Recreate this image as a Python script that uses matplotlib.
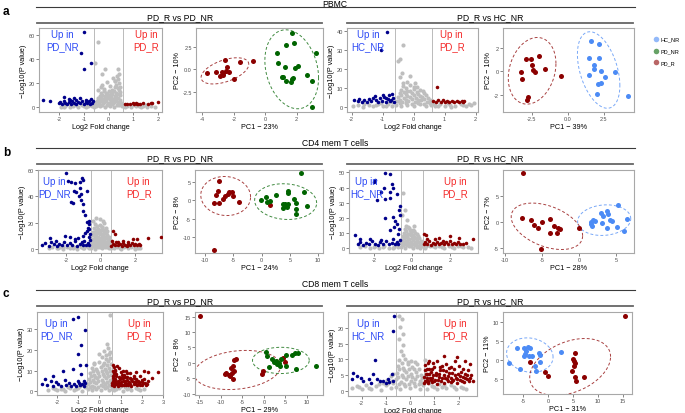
import numpy as np
import matplotlib
matplotlib.use("Agg")
import matplotlib.pyplot as plt
from matplotlib.lines import Line2D

plt.rcParams['font.family'] = ['Liberation Sans', 'DejaVu Sans']
plt.rcParams['axes.unicode_minus'] = False

W, H = 685, 414

# ---------------- volcano data (log2FC, -log10 p) ----------------
A1_GREY = [(-1.92, 0.4), (-1.75, 1.1), (-1.58, 0.3), (-1.42, 1.3), (-1.25, 0.6), (-1.08, 1.5), (-0.92, 0.2),
           (-0.8, 1.9), (-0.68, 0.9), (0.72, 1.2), (0.88, 0.4), (1.05, 1.7), (1.22, 0.7), (1.38, 1.4), (1.55, 0.3),
           (1.7, 1.0), (1.86, 0.5), (0.95, 2.2), (-1.5, 2.0),
           (-0.52, 0.8), (-0.34, 1.4), (-0.15, 0.5), (0.04, 1.1), (0.22, 0.6), (0.41, 1.6), (0.55, 0.9),
           (-0.56, 3.2), (-0.4, 2.8), (-0.21, 3.5), (-0.02, 2.6), (0.17, 3.4), (0.36, 2.9), (0.5, 3.6),
           (-0.48, 5.3), (-0.28, 4.8), (-0.09, 5.6), (0.11, 4.9), (0.3, 5.4), (0.47, 4.7),
           (-0.43, 7.4), (-0.22, 6.9), (-0.04, 7.8), (0.16, 7.1), (0.38, 7.6),
           (-0.37, 9.6), (-0.16, 9.1), (0.03, 10.2), (0.24, 9.4), (0.44, 10.0),
           (-0.31, 12.1), (-0.12, 11.6), (0.08, 12.5), (0.29, 11.8), (0.47, 12.9),
           (-0.42, 14.6), (-0.18, 15.3), (0.14, 14.2), (0.36, 15.8),
           (-0.27, 18.1), (0.06, 17.6), (0.31, 18.8), (0.45, 17.0),
           (-0.08, 20.9), (0.26, 21.4), (0.4, 20.2), (0.19, 24.3), (0.36, 23.5),
           (-0.44, 53.7), (-0.54, 36.6), (-0.13, 31.6), (0.36, 31.6), (0.34, 25.6), (-0.27, 27.5),
           (0.27, 22.0), (0.42, 27.8),
           (-0.45, 2.0), (-0.25, 2.2), (-0.05, 1.8), (0.15, 2.3), (0.35, 1.9), (0.52, 2.4), (-0.4, 4.0),
           (-0.2, 4.2), (0.0, 3.9), (0.2, 4.3), (0.4, 4.0), (-0.35, 6.2), (-0.15, 6.0), (0.05, 6.5), (0.25, 6.3),
           (0.45, 6.1), (-0.3, 8.4), (-0.1, 8.2), (0.1, 8.7), (0.3, 8.5), (-0.25, 10.5), (-0.05, 10.8),
           (0.15, 10.6), (0.35, 11.0), (-0.2, 13.5), (0.0, 13.8), (0.2, 13.3), (0.4, 14.0), (-0.3, 16.5),
           (0.25, 16.8), (-1.3, 2.1), (-1.0, 0.9), (-0.6, 0.3), (0.65, 0.5), (1.3, 0.5), (1.5, 1.8), (-1.8, 0.2),
           (-0.85, 1.2), (1.1, 0.9), (0.6, 1.7)]
A1_BLUE = [(-1.01, 62.0), (-1.10, 44.6), (-0.71, 36.4), (-1.01, 31.7), (-2.63, 6.3), (-2.36, 5.0), (-1.79, 8.8),
           (-1.41, 7.7), (-1.14, 7.7), (-1.3, 6.3), (-1.62, 6.9),
           (-2.0, 3.2), (-1.95, 4.6), (-1.88, 2.8), (-1.82, 5.4), (-1.75, 3.6), (-1.68, 2.9), (-1.6, 4.4),
           (-1.52, 3.1), (-1.46, 5.2), (-1.38, 3.8), (-1.3, 2.7), (-1.22, 4.5), (-1.15, 3.3), (-1.08, 5.6),
           (-1.0, 2.9), (-0.93, 4.1), (-0.86, 3.4), (-0.8, 5.0), (-0.74, 2.8), (-0.68, 3.9), (-0.63, 4.8),
           (-0.9, 6.0), (-1.55, 6.1), (-0.7, 6.6)]
A1_RED = [(0.74, 2.7), (0.85, 3.0), (0.97, 3.3), (1.03, 2.5), (1.1, 3.6), (1.15, 2.7), (1.27, 2.7), (1.40, 3.3),
          (1.6, 2.7), (1.7, 3.6), (1.75, 3.2), (1.98, 4.3), (0.65, 2.4), (1.2, 3.1)]

A2_GREY = [(-1.95, 0.6), (-1.8, 1.4), (-1.62, 0.3), (-1.45, 1.1), (-1.3, 0.5), (-1.15, 1.7), (-0.98, 0.8),
           (-0.82, 1.9), (-0.7, 0.4), (0.7, 0.9), (0.85, 1.8), (1.0, 0.4), (1.18, 1.2), (1.35, 0.7), (1.52, 1.5),
           (1.7, 0.5), (1.85, 1.1), (1.94, 2.1), (-1.05, 2.2), (1.1, 2.1),
           (-0.58, 1.0), (-0.4, 0.5), (-0.2, 1.3), (0.0, 0.7), (0.2, 1.5), (0.4, 0.6), (0.56, 1.2),
           (-0.55, 3.1), (-0.36, 2.6), (-0.17, 3.4), (0.03, 2.8), (0.23, 3.6), (0.42, 2.5), (0.58, 3.3),
           (-0.5, 5.2), (-0.31, 4.7), (-0.12, 5.5), (0.08, 4.9), (0.27, 5.6), (0.46, 4.8),
           (-0.45, 7.3), (-0.26, 6.8), (-0.06, 7.6), (0.13, 7.0), (0.33, 7.5),
           (-0.4, 9.2), (-0.2, 8.8), (0.0, 9.7), (0.2, 9.0), (-0.33, 11.1), (-0.12, 11.6), (0.1, 10.8),
           (-0.34, 33.0), (-0.45, 25.4), (-0.5, 24.5), (-0.38, 18.0), (-0.1, 16.3), (-0.45, 15.8),
           (-0.2, 13.5), (0.05, 13.0),
           (-0.45, 2.0), (-0.25, 2.1), (-0.05, 1.9), (0.15, 2.3), (0.35, 1.9), (0.52, 2.4), (-0.45, 4.0),
           (-0.25, 3.8), (-0.05, 4.2), (0.15, 3.9), (0.35, 4.3), (0.52, 4.0), (-0.4, 6.2), (-0.2, 6.0), (0.0, 6.4),
           (0.2, 6.1), (0.4, 6.4), (-0.3, 8.1), (-0.1, 8.3), (0.1, 8.0), (0.3, 8.5), (-0.25, 10.2), (0.0, 10.5),
           (-0.35, 13.0), (-1.6, 1.5), (-1.2, 1.0), (-0.9, 0.5), (0.8, 0.4), (1.2, 0.2), (1.6, 1.0), (1.8, 1.8),
           (0.65, 1.5), (-0.7, 2.5)]
A2_BLUE = [(-0.86, 39.8), (-1.06, 30.3),
           (-1.92, 4.0), (-1.81, 3.5), (-1.75, 4.4), (-1.68, 3.0), (-1.6, 3.8), (-1.52, 2.7), (-1.45, 4.6),
           (-1.38, 3.2), (-1.3, 5.1), (-1.22, 3.6), (-1.15, 2.8), (-1.1, 4.8), (-1.02, 3.4), (-0.95, 5.6),
           (-0.9, 3.0), (-0.84, 4.2), (-0.78, 6.3), (-0.72, 3.6), (-0.66, 5.0), (-0.63, 2.9), (-0.7, 7.1),
           (-0.98, 6.6), (-1.25, 5.8), (-0.88, 4.9), (-0.75, 3.1)]
A2_RED = [(0.76, 10.5), (0.63, 3.3), (0.72, 2.8), (0.8, 3.6), (0.9, 2.7), (1.0, 3.0), (1.08, 3.4), (1.15, 2.6),
          (1.25, 3.2), (1.32, 2.8), (1.4, 3.5), (1.47, 3.0), (1.55, 3.3), (1.6, 2.7), (1.64, 3.1), (0.95, 3.9)]

B1_GREY = [(-2.55, 0.5), (-2.35, 1.3), (-2.15, 0.4), (-1.95, 1.6), (-1.75, 0.7), (-1.55, 1.9), (-1.35, 0.3),
           (-1.15, 1.4), (-0.95, 0.6), (-0.75, 1.8), (0.75, 0.6), (0.95, 1.5), (1.15, 0.3), (1.35, 1.2),
           (1.55, 0.7), (1.75, 1.6), (1.95, 0.4), (2.15, 1.1), (2.26, 0.5), (-3.0, 0.9), (-2.8, 1.8),
           (-0.55, 1.0), (-0.35, 0.4), (-0.15, 1.2), (0.05, 0.6), (0.25, 1.4), (0.45, 0.5), (0.6, 1.1),
           (-0.56, 3.2), (-0.38, 2.6), (-0.18, 3.5), (0.02, 2.8), (0.22, 3.6), (0.42, 2.5), (0.6, 3.4),
           (-0.52, 5.5), (-0.33, 4.8), (-0.13, 5.9), (0.07, 5.1), (0.27, 5.7), (0.47, 4.9),
           (-0.48, 8.0), (-0.28, 7.2), (-0.08, 8.4), (0.12, 7.6), (0.32, 8.2), (0.52, 7.0),
           (-0.45, 10.6), (-0.25, 9.9), (-0.05, 11.1), (0.15, 10.3), (0.35, 10.8),
           (-0.42, 13.2), (-0.22, 12.6), (-0.02, 13.8), (0.18, 12.9), (0.38, 13.5),
           (-0.4, 16.0), (-0.15, 15.4), (0.08, 16.5), (0.28, 15.7),
           (-0.35, 18.8), (-0.05, 18.2), (0.2, 19.4), (-0.28, 23.6), (-0.05, 22.8), (0.14, 21.5), (-0.45, 21.0),
           (-0.45, 2.0), (-0.25, 2.2), (-0.05, 1.9), (0.15, 2.3), (0.35, 1.8), (0.55, 2.3), (-0.45, 4.2),
           (-0.25, 4.0), (-0.05, 4.4), (0.15, 4.1), (0.35, 4.3), (0.55, 4.6), (-0.4, 6.6), (-0.2, 6.4), (0.0, 6.9),
           (0.2, 6.6), (0.4, 6.8), (-0.35, 9.2), (-0.15, 9.0), (0.05, 9.5), (0.25, 9.3), (0.45, 9.0), (-0.3, 11.8),
           (-0.1, 12.0), (0.1, 11.6), (0.3, 12.2), (-0.3, 14.5), (0.0, 14.8), (0.2, 14.3), (-0.2, 17.2),
           (0.05, 17.0), (-2.2, 1.2), (-1.6, 1.0), (-1.0, 1.1), (-0.7, 0.5), (0.7, 1.3), (1.1, 1.0), (1.6, 1.2),
           (2.0, 1.1), (-2.45, 0.9)]
B1_BLUE = [(-2.01, 57.8), (-1.74, 51.2), (-1.87, 52.0), (-1.49, 50.2), (-1.10, 53.8), (-1.01, 52.7), (-1.2, 50.7),
           (-1.2, 46.2), (-1.55, 44.4), (-0.78, 44.4), (-1.43, 43.1), (-1.14, 41.8), (-1.74, 35.5), (-1.59, 35.0),
           (-1.24, 40.5), (-1.14, 37.5), (-1.04, 34.2), (-1.01, 29.1), (-0.91, 25.9), (-0.78, 20.8),
           (-0.66, 21.5), (-0.66, 18.9), (-0.72, 16.3), (-0.82, 13.8), (-0.91, 11.8), (-1.01, 10.1),
           (-0.66, 15.0), (-0.62, 11.3), (-2.93, 8.1), (-2.07, 10.1), (-1.78, 8.9), (-1.49, 7.6), (-1.3, 8.1),
           (-3.4, 3.1), (-3.2, 4.5), (-3.0, 2.6), (-2.85, 5.2), (-2.7, 3.5), (-2.55, 2.4), (-2.4, 4.1),
           (-2.25, 3.0), (-2.1, 5.5), (-1.95, 2.7), (-1.8, 4.3), (-1.65, 3.2), (-1.5, 5.8), (-1.35, 2.6),
           (-1.2, 4.0), (-1.05, 3.1), (-0.95, 6.2), (-0.85, 2.8), (-0.75, 4.6), (-0.68, 3.3), (-0.64, 7.0),
           (-0.7, 9.0), (-1.1, 5.0), (-2.6, 6.0)]
B1_RED = [(0.72, 13.9), (0.82, 11.4), (2.74, 8.1), (3.45, 9.4), (1.88, 7.6), (2.1, 7.6), (1.31, 6.3),
          (0.62, 2.5), (0.7, 4.2), (0.8, 3.0), (0.9, 5.0), (1.0, 2.7), (1.1, 3.8), (1.2, 2.4), (1.3, 4.6),
          (1.4, 3.1), (1.5, 2.6), (1.6, 4.0), (1.7, 3.0), (1.8, 4.8), (1.9, 2.7), (2.0, 3.6), (2.1, 2.9),
          (2.2, 4.2), (2.25, 3.0), (1.0, 5.5), (1.55, 5.2), (0.65, 6.0)]

B2_GREY = [(-2.7, 0.8), (-2.45, 1.6), (-2.2, 0.4), (-1.95, 1.3), (-1.7, 0.6), (-1.45, 1.8), (-1.2, 0.3),
           (-0.95, 1.2), (-0.75, 2.2), (0.7, 0.5), (0.95, 1.6), (1.2, 0.7), (1.45, 1.9), (1.7, 0.4), (1.95, 1.3),
           (2.2, 0.6), (2.45, 1.5), (2.7, 0.8), (2.95, 1.2), (3.1, 0.5),
           (-0.55, 1.0), (-0.35, 0.5), (-0.15, 1.4), (0.05, 0.6), (0.25, 1.2), (0.45, 0.4), (0.56, 1.6),
           (-0.54, 3.3), (-0.36, 2.8), (-0.17, 3.7), (0.03, 2.9), (0.23, 3.5), (0.43, 2.7),
           (-0.5, 5.6), (-0.31, 5.0), (-0.12, 6.0), (0.08, 5.3), (0.28, 5.9), (0.47, 5.1),
           (-0.46, 8.0), (-0.26, 7.4), (-0.06, 8.5), (0.14, 7.7), (0.34, 8.2),
           (-0.42, 10.4), (-0.22, 9.8), (-0.02, 10.9), (0.18, 10.1), (-0.38, 12.8), (-0.15, 13.5), (0.05, 12.4),
           (-0.3, 15.0), (-0.45, 36.4), (-0.34, 25.4), (-0.5, 22.0), (-0.25, 18.5), (0.1, 14.8),
           (-0.45, 2.0), (-0.25, 2.1), (-0.05, 1.9), (0.15, 2.3), (0.35, 1.9), (0.52, 2.4), (-0.45, 4.3),
           (-0.25, 4.0), (-0.05, 4.5), (0.15, 4.2), (0.35, 4.4), (0.52, 4.0), (-0.4, 6.7), (-0.2, 6.5), (0.0, 7.0),
           (0.2, 6.7), (0.4, 6.9), (-0.35, 9.1), (-0.15, 9.3), (0.05, 9.0), (0.25, 9.4), (-0.3, 11.5),
           (-0.1, 11.8), (0.1, 11.2), (-0.2, 14.0), (-2.0, 1.0), (-1.5, 0.8), (-1.0, 0.5), (-0.7, 1.2),
           (0.75, 1.3), (1.1, 1.4), (1.6, 1.0), (2.1, 1.1), (2.6, 1.3), (0.8, 2.5), (-0.8, 2.8)]
B2_BLUE = [(-1.39, 49.5), (-1.17, 48.9), (-1.92, 45.1), (-2.01, 43.4), (-1.04, 42.3), (-0.96, 39.5), (-1.48, 39.5),
           (-1.61, 37.2), (-1.13, 36.8), (-1.83, 32.0), (-1.43, 32.4), (-1.13, 32.9), (-0.78, 35.7), (-0.64, 28.0),
           (-0.69, 25.2), (-1.43, 19.7), (-0.96, 20.4), (-0.87, 18.2), (-0.78, 16.0), (-0.91, 13.8),
           (-0.69, 12.7), (-1.13, 12.0), (-2.97, 9.0), (-2.71, 6.1), (-0.62, 22.0), (-0.72, 9.5),
           (-2.85, 3.0), (-2.7, 4.2), (-2.55, 2.5), (-2.4, 3.8), (-2.25, 2.8), (-2.1, 4.6), (-1.95, 3.1),
           (-1.8, 2.4), (-1.65, 4.0), (-1.5, 3.0), (-1.35, 5.0), (-1.2, 2.6), (-1.05, 3.6), (-0.9, 2.8),
           (-0.8, 4.4), (-0.7, 3.2), (-0.62, 5.5), (-1.6, 5.6), (-2.2, 6.0), (-1.0, 6.5)]
B2_RED = [(0.66, 9.4), (1.41, 6.6), (2.03, 7.9), (2.5, 6.6), (3.2, 6.1), (0.75, 8.5),
          (0.62, 2.6), (0.72, 4.0), (0.82, 3.0), (0.92, 5.0), (1.02, 2.4), (1.12, 3.8), (1.22, 2.9), (1.32, 4.5),
          (1.42, 2.6), (1.52, 3.6), (1.62, 5.2), (1.72, 2.8), (1.82, 4.1), (1.92, 3.0), (2.02, 4.8), (2.12, 2.7),
          (2.22, 3.6), (2.32, 2.9), (2.42, 4.2), (2.55, 3.1), (2.7, 2.8), (2.85, 3.5), (1.2, 6.0), (0.8, 6.3)]

C1_GREY = [(-2.4, 0.8), (-2.2, 1.6), (-2.0, 0.5), (-1.8, 1.3), (-1.6, 0.4), (-1.4, 1.8), (-1.2, 0.7), (-1.0, 1.5),
           (-0.8, 0.3), (-0.7, 2.0), (0.7, 0.6), (0.9, 1.6), (1.1, 0.4), (1.3, 1.3), (1.5, 0.8), (1.7, 1.7),
           (1.9, 0.5), (2.08, 1.0), (-1.5, 2.3), (1.2, 2.2),
           (-0.55, 1.0), (-0.35, 0.5), (-0.15, 1.3), (0.05, 0.7), (0.25, 1.5), (0.45, 0.6), (0.57, 1.2),
           (-0.53, 3.5), (-0.34, 2.8), (-0.14, 3.9), (0.06, 3.1), (0.26, 3.7), (0.46, 2.9),
           (-0.5, 6.0), (-0.3, 5.4), (-0.1, 6.4), (0.1, 5.6), (0.3, 6.2), (0.5, 5.3),
           (-0.45, 8.6), (-0.25, 8.0), (-0.05, 9.0), (0.15, 8.2), (0.35, 8.8), (0.55, 7.9),
           (-0.35, 11.2), (-0.15, 10.6), (0.05, 11.6), (0.25, 10.9), (0.45, 11.4),
           (-0.25, 13.4), (0.0, 14.2), (0.2, 13.6), (0.4, 14.5), (0.55, 13.0),
           (0.1, 16.5), (0.3, 17.4), (0.48, 16.2), (0.2, 19.5), (0.38, 20.8), (0.5, 19.0), (0.36, 23.0),
           (0.5, 36.5), (0.0, 18.0), (-0.25, 13.0),
           (-0.45, 2.0), (-0.25, 2.2), (-0.05, 1.9), (0.15, 2.4), (0.35, 2.0), (0.55, 2.5), (-0.45, 4.6),
           (-0.25, 4.3), (-0.05, 4.8), (0.15, 4.5), (0.35, 4.7), (0.55, 4.4), (-0.4, 7.2), (-0.2, 7.0), (0.0, 7.5),
           (0.2, 7.2), (0.4, 7.5), (-0.3, 9.8), (-0.1, 10.0), (0.1, 9.8), (0.3, 10.0), (0.5, 9.6), (0.15, 12.5),
           (0.35, 12.6), (0.3, 15.5), (0.45, 18.0), (-0.9, 2.4), (-1.1, 1.1), (-1.7, 0.9), (-2.1, 1.1),
           (0.8, 1.2), (1.0, 2.4), (1.4, 1.7), (1.8, 1.2), (-0.7, 3.5)]
C1_BLUE = [(-1.23, 34.9), (-1.02, 35.7), (-0.67, 29.6), (-0.88, 22.5), (-1.02, 18.0), (-0.91, 12.9), (-0.63, 12.9),
           (-0.86, 8.4), (-1.25, 10.8), (-1.73, 10.0), (-2.2, 7.5), (-2.56, 5.9), (-2.72, 3.5), (-2.04, 4.3),
           (-2.3, 5.0), (-1.62, 5.5), (-1.45, 3.9),
           (-2.45, 3.0), (-2.2, 2.6), (-1.95, 3.4), (-1.8, 2.8), (-1.55, 3.1), (-1.35, 2.5), (-1.2, 3.6),
           (-1.1, 2.7), (-0.98, 4.0), (-0.9, 3.0), (-0.8, 3.6), (-0.72, 2.6), (-0.66, 4.2), (-0.75, 4.8), (-1.0, 5.0)]
C1_RED = [(1.26, 10.0), (1.7, 9.3), (2.08, 10.0), (2.26, 9.2), (2.75, 9.2), (2.47, 6.3), (0.65, 12.9), (0.73, 10.5),
          (0.6, 3.0), (0.62, 5.0), (0.63, 7.5), (0.64, 10.0), (0.66, 11.8), (0.7, 2.8), (0.72, 4.2), (0.75, 6.0),
          (0.78, 8.5), (0.8, 3.5), (0.85, 5.2), (0.88, 2.7), (0.9, 7.0), (0.95, 4.0), (1.0, 3.0), (1.02, 6.2),
          (1.05, 8.0), (1.1, 4.8), (1.15, 2.9), (1.18, 6.8), (1.22, 3.8), (1.28, 5.5), (1.3, 8.8), (1.35, 3.1),
          (1.4, 4.6), (1.45, 6.5), (1.5, 2.8), (1.55, 5.0), (1.6, 7.6), (1.62, 3.6), (1.68, 4.4), (1.72, 6.0),
          (1.78, 2.9), (1.82, 5.2), (1.88, 3.8), (1.92, 7.2), (1.98, 4.6), (2.02, 3.2), (2.1, 5.8), (2.15, 4.0),
          (2.2, 3.0), (2.3, 4.8), (0.68, 9.0), (0.92, 11.0), (1.12, 9.6), (0.82, 12.2), (1.45, 8.6),
          (0.6, 4.0), (0.65, 6.5), (0.7, 3.5), (0.75, 5.0), (0.8, 7.5), (0.85, 4.2), (0.9, 3.0), (0.95, 5.8),
          (1.0, 4.5), (1.05, 3.3), (1.1, 6.5), (1.2, 5.0), (1.25, 3.0), (1.3, 7.0), (1.35, 4.0), (1.45, 3.5),
          (1.5, 5.8), (1.6, 4.5), (1.7, 3.4), (1.75, 5.0), (1.85, 4.4), (1.9, 3.0), (2.0, 5.5), (2.05, 3.9),
          (2.25, 3.6), (0.7, 8.0), (1.0, 9.5), (1.15, 7.8), (0.75, 10.0), (1.6, 6.2)]

C2_GREY = [(-2.4, 0.8), (-2.2, 1.5), (-2.0, 0.5), (-1.8, 1.9), (-1.6, 0.7), (-1.4, 1.4), (-1.2, 0.3), (-1.0, 1.8),
           (-0.8, 0.9), (-0.7, 2.4), (0.7, 0.7), (0.9, 1.6), (1.1, 0.4), (1.3, 1.3), (1.5, 0.8), (1.7, 1.7),
           (1.9, 0.5), (2.1, 1.2), (2.3, 0.6), (-1.1, 2.4), (1.2, 2.1), (-0.95, 3.5), (-0.8, 4.6), (-0.75, 3.0),
           (-0.6, 1.2), (-0.4, 0.5), (-0.2, 1.5), (0.0, 0.8), (0.2, 1.4), (0.4, 0.6), (0.54, 1.8),
           (-0.58, 3.6), (-0.38, 2.9), (-0.18, 3.8), (0.02, 3.1), (0.22, 3.9), (0.42, 3.0),
           (-0.55, 5.8), (-0.35, 5.1), (-0.15, 6.1), (0.05, 5.3), (0.25, 6.0), (0.45, 5.0),
           (-0.5, 8.0), (-0.3, 7.3), (-0.1, 8.4), (0.1, 7.6), (0.3, 8.6), (-0.45, 9.8), (-0.2, 10.2), (0.05, 9.5),
           (-0.44, 24.0), (-0.35, 23.0), (-0.4, 20.5), (-0.3, 18.2), (-0.45, 16.5), (-0.28, 14.5),
           (-0.38, 12.8), (-0.3, 11.5), (0.6, 9.8),
           (-0.45, 2.2), (-0.25, 2.3), (-0.05, 2.0), (0.15, 2.4), (0.35, 2.2), (0.5, 2.6), (-0.5, 4.5),
           (-0.3, 4.3), (-0.1, 4.7), (0.1, 4.4), (0.3, 4.6), (0.5, 4.2), (-0.45, 6.8), (-0.25, 6.6), (-0.05, 7.1),
           (0.15, 6.8), (0.35, 7.0), (-0.35, 9.0), (-0.1, 9.2), (0.2, 9.3), (-0.9, 2.6), (-0.7, 5.5), (-1.3, 2.0),
           (-1.7, 1.0), (-2.1, 1.2), (0.8, 2.4), (1.0, 1.1), (1.4, 1.7), (1.8, 1.2), (2.2, 1.0), (0.7, 3.5),
           (0.65, 5.0)]
C2_BLUE = [(-0.65, 24.0), (-0.69, 19.0), (-1.45, 9.8), (-2.34, 5.7), (-2.2, 4.8), (-1.93, 3.2), (-1.52, 5.4),
           (-1.38, 3.7), (-1.1, 3.2), (-0.69, 3.0), (-0.9, 3.7), (-1.25, 3.0), (-1.7, 3.7), (-2.03, 4.2),
           (-0.76, 5.5), (-1.0, 2.6), (-1.6, 2.5), (-2.4, 3.6), (-0.85, 2.7)]
C2_RED = [(1.38, 11.0), (1.1, 9.6), (0.77, 9.4), (1.95, 10.9), (1.85, 9.4), (2.48, 8.6), (2.27, 9.6), (0.95, 9.0),
          (0.56, 2.4), (0.58, 4.5), (0.6, 6.5), (0.62, 8.2), (0.66, 3.2), (0.7, 5.4), (0.74, 2.5), (0.78, 7.0),
          (0.82, 4.0), (0.86, 6.0), (0.9, 2.8), (0.95, 4.9), (1.0, 7.5), (1.04, 3.4), (1.08, 5.8), (1.12, 2.3),
          (1.18, 4.4), (1.22, 6.6), (1.28, 3.0), (1.32, 8.0), (1.38, 5.0), (1.42, 2.6), (1.48, 6.2), (1.52, 3.8),
          (1.58, 4.8), (1.62, 7.2), (1.68, 2.7), (1.72, 5.6), (1.78, 3.5), (1.82, 6.8), (1.88, 4.2), (1.92, 2.5),
          (1.98, 5.2), (2.02, 7.8), (2.08, 3.3), (2.12, 6.0), (2.18, 4.4), (2.22, 2.8), (2.28, 5.4), (2.34, 3.6),
          (2.4, 6.6), (2.46, 4.0), (2.52, 5.0), (2.58, 3.2), (1.5, 8.6), (0.75, 8.8),
          (0.6, 3.0), (0.64, 5.5), (0.7, 4.0), (0.76, 3.0), (0.8, 5.5), (0.85, 3.5), (0.92, 4.0), (1.0, 3.0),
          (1.05, 5.0), (1.15, 3.5), (1.2, 5.5), (1.3, 4.0), (1.35, 6.5), (1.45, 4.2), (1.55, 3.0), (1.6, 5.8),
          (1.7, 4.2), (1.75, 3.0), (1.85, 5.0), (1.95, 3.6), (2.05, 4.6), (2.15, 3.0), (2.25, 4.0), (2.35, 5.0),
          (2.45, 3.0), (0.9, 6.8), (1.25, 7.5), (1.7, 7.5), (2.2, 7.0), (0.68, 7.0)]

# ---------------- PCA data (PC1, PC2) ----------------
A_PCA1_R = [(-3.68, -0.38), (-3.13, -0.24), (-2.77, -0.24), (-2.66, -0.6), (-2.70, -0.38), (-2.49, -0.13),
            (-2.28, -0.24), (-2.56, 1.04), (-2.45, 0.31), (-1.98, -1.04), (-1.60, 0.86), (-0.76, 0.9), (-2.85, -0.7)]
A_PCA1_NR = [(1.68, 3.97), (1.85, 2.87), (1.30, 2.69), (0.77, 1.78), (0.83, 0.71), (1.26, 0.24), (2.10, 0.42),
             (1.89, 0.16), (1.05, -0.79), (1.15, -0.86), (1.32, -1.30), (1.68, -1.04), (1.79, -0.97), (1.62, -1.41),
             (2.64, -0.60), (2.96, -1.30), (3.21, 1.78), (2.99, -4.07)]
A_PCA2_R = [(-2.90, 1.04), (-2.57, 1.04), (-1.97, 1.32), (-2.46, 0.55), (-2.39, 0.15), (-2.25, -0.07),
            (-1.60, 0.21), (-3.24, -0.07), (-3.19, -0.64), (-0.47, -0.38), (-2.76, -2.2), (-2.85, -2.43)]
A_PCA2_HC = [(1.62, 2.57), (2.19, 2.37), (1.51, 1.12), (2.19, 1.12), (1.85, 0.55), (1.85, 0.21), (2.29, 0.07),
             (1.51, -0.30), (3.31, -0.02), (2.61, -0.49), (2.31, -0.98), (2.13, -1.09), (2.06, -1.94), (4.19, -2.11)]

B_PCA1_R = [(-7.48, 5.27), (-7.77, 2.55), (-8.07, 1.36), (-6.48, 1.18), (-5.30, 2.27), (-5.72, 2.09), (-6.0, 1.64),
            (-5.01, 1.18), (-8.36, -0.64), (-7.48, -0.82), (-4.0, -0.45), (-6.78, 0.45), (-8.36, -13.55), (1.47, -1.36)]
B_PCA1_NR = [(-0.18, 0.0), (0.76, 0.73), (1.47, -0.18), (2.52, 1.36), (4.59, 2.55), (4.7, 1.82), (6.88, 7.27),
             (7.52, 2.09), (7.94, -1.55), (5.70, 0.45), (6.05, -0.91), (6.05, -2.45), (6.05, -3.82), (3.82, -1.09),
             (4.11, -1.09), (3.82, -2.27), (4.52, -2.0), (4.70, -1.09), (0.9, -0.6)]
B_PCA2_R = [(-7.63, 9.35), (-7.76, 0.75), (-6.51, 0.42), (-6.07, -0.59), (-5.62, -1.22), (-5.04, 0.04),
            (-3.96, 0.55), (-3.38, -0.84), (-2.93, -1.22), (-2.58, -1.36), (-3.96, -1.99), (-3.07, -2.12),
            (-0.03, -1.22), (-5.17, -5.18)]
B_PCA2_HC = [(5.21, 3.29), (3.79, 2.14), (2.89, 1.70), (3.25, 1.19), (3.87, 1.45), (1.91, 0.42), (1.64, 0.04),
             (1.55, -0.40), (1.77, -0.84), (3.02, -0.08), (4.14, 0.36), (4.36, 0.23), (5.04, -1.03), (3.69, -1.22),
             (6.47, 0.55), (6.02, -1.68), (2.12, 0.23)]

C_PCA1_R = [(-14.87, 15.3), (-6.44, 1.18), (-6.83, 0.96), (-7.2, -0.96), (-7.75, -1.69), (-6.97, -2.75),
            (-9.13, -3.61), (-8.21, -3.83), (-7.43, -3.29), (-7.2, -5.2), (-7.98, -4.34), (-8.74, -3.29),
            (-0.09, -2.75), (4.5, 1.5), (4.79, 0.45), (-0.55, -3.61)]
C_PCA1_NR = [(0.44, 3.42), (0.67, 2.24), (1.97, 1.18), (2.73, 0.77), (3.49, 0.13), (2.96, -0.32), (3.72, -0.96),
             (5.03, 2.56), (5.25, -1.15), (6.56, 2.56), (7.32, 3.32), (7.94, 3.10), (7.55, -2.0), (12.06, -0.96),
             (1.2, -1.37), (3.88, 1.18), (2.34, 0.45)]
C_PCA2_HC = [(-6.18, 3.12), (-4.73, 3.12), (-4.07, 3.29), (-3.68, 3.12), (-4.34, 2.24), (-4.73, 1.11), (-3.87, 1.11),
             (-3.21, 1.11), (-1.88, 1.80), (-1.68, 1.37), (-1.55, -0.46), (-5.66, -2.38), (-7.85, -0.9),
             (-2.54, -1.51), (-2.35, -2.83), (2.56, 1.98), (-4.53, 1.54)]
C_PCA2_R = [(15.55, 11.4), (5.41, 1.72), (4.95, 0.23), (5.21, -0.37), (5.41, -0.9), (5.21, -1.51), (4.81, -2.99),
            (5.41, -4.39), (5.54, -5.44), (7.26, -4.39), (-0.56, -3.25), (-0.09, -4.21), (-3.68, -0.63)]

GROUPS = ["HC_NR", "PD_NR", "PD_R"]
PCA_TITLES = [("PC1 \u2212 23%", "PC2 \u2212 10%"), ("PC1 \u2212 39%", "PC2 \u2212 10%"),
              ("PC1 \u2212 24%", "PC2 \u2212 8%"), ("PC1 \u2212 28%", "PC2 \u2212 7%"),
              ("PC1 \u2212 29%", "PC2 \u2212 8%"), ("PC1 \u2212 31%", "PC2 \u2212 11%")]

C_GREY, C_BLUE, C_RED = "#BEBEBE", "#00008B", "#8B0000"
C_GREEN, C_HC = "#006400", "#4C8BF5"
TXT_BLUE, TXT_RED = "#2E4BF5", "#F42A2A"

fig = plt.figure(figsize=(W / 100, H / 100), dpi=100)

# overlay for headers / lines
ov = fig.add_axes([0, 0, 1, 1])
ov.set_xlim(0, W)
ov.set_ylim(H, 0)
ov.axis('off')


def add_ax(x0, y0, x1, y1):
    return fig.add_axes([x0 / W, 1 - y1 / H, (x1 - x0) / W, (y1 - y0) / H])


def style(ax, xlim, ylim, xt, yt, xl, yl, xtl=None, ytl=None):
    ax.set_xlim(xlim)
    ax.set_ylim(ylim)
    ax.set_xticks(xt)
    ax.set_yticks(yt)
    if xtl:
        ax.set_xticklabels(xtl)
    if ytl:
        ax.set_yticklabels(ytl)
    for s in ax.spines.values():
        s.set_color('#A8A8A8')
        s.set_linewidth(0.8)
    ax.tick_params(length=2, width=0.5, color='#555555', labelsize=4, labelcolor='#4D4D4D', pad=1)
    ax.set_xlabel(xl, fontsize=5.2, labelpad=1.2)
    ax.set_ylabel(yl, fontsize=5.2, labelpad=1.2)


def arr(pts):
    a = np.array(pts, dtype=float)
    return a[:, 0], a[:, 1]


def volcano(ax, grey, blue, red, up_left, left_pos, right_pos):
    x, y = arr(grey)
    ax.scatter(x, y, s=9, c=C_GREY, linewidths=0, zorder=2)
    for pts, col in ((blue, C_BLUE), (red, C_RED)):
        x, y = arr(pts)
        ax.scatter(x, y, s=6.5, c=col, linewidths=0, zorder=3)
    for v in (-0.585, 0.585):
        ax.axvline(v, color='#B0B0B0', lw=0.6, zorder=1)
    ax.text(left_pos[0], left_pos[1], "Up in\n" + up_left, transform=ax.transAxes, ha='center', va='center',
            color=TXT_BLUE, fontsize=7, linespacing=1.3)
    ax.text(right_pos[0], right_pos[1], "Up in\nPD_R", transform=ax.transAxes, ha='center', va='center',
            color=TXT_RED, fontsize=7, linespacing=1.3)


def trob_ellipse(pts, nu=5, level=0.95, seg=100):
    # MASS::cov.trob + ggplot2 stat_ellipse(type = "t")
    x = np.array(pts, dtype=float)
    n, p = x.shape
    loc = x.mean(0)
    w = np.ones(n)
    for _ in range(25):
        w0 = w
        X = x - loc
        u, d, vt = np.linalg.svd(np.sqrt(w / w.sum())[:, None] * X, full_matrices=False)
        wX = X @ vt.T @ np.diag(1 / d)
        Q = (wX ** 2).sum(1)
        w = (nu + p) / (nu + Q)
        loc = (w[:, None] * x).sum(0) / w.sum()
        if np.all(np.abs(w - w0) < 0.01):
            break
    X = x - loc
    cov = (np.sqrt(w)[:, None] * X).T @ (np.sqrt(w)[:, None] * X) / n
    m = n - 1
    qf = (m / 2) * ((1 - level) ** (-2 / m) - 1)
    r = np.sqrt(2 * qf)
    t = np.linspace(0, 2 * np.pi, seg)
    circ = np.column_stack([np.cos(t), np.sin(t)])
    L = np.linalg.cholesky(cov)
    e = loc + r * circ @ L.T
    return e[:, 0], e[:, 1]


def pca(ax, groups):
    for pts, col in groups:
        ex, ey = trob_ellipse(pts)
        ax.plot(ex, ey, ls=(0, (3, 2.2)), color=col, lw=0.7, alpha=0.75, zorder=1)
    for pts, col in groups:
        x, y = arr(pts)
        ax.scatter(x, y, s=13, c=col, linewidths=0, zorder=2)


VLAB = "\u2212Log10(P value)"
FCLAB = "Log2 Fold change"

# ---------- row a ----------
ax = add_ax(39, 29, 162, 113)
volcano(ax, A1_GREY, A1_BLUE, A1_RED, "PD_NR", (0.19, 0.86), (0.87, 0.86))
style(ax, (-2.81, 2.15), (-3.9, 65.5), [-2, -1, 0, 1, 2], [0, 20, 40, 60], FCLAB, VLAB)

ax = add_ax(196, 29, 323, 113)
pca(ax, [(A_PCA1_R, C_RED), (A_PCA1_NR, C_GREEN)])
style(ax, (-4.4, 3.68), (-4.66, 4.55), [-4, -2, 0, 2], [-2.5, 0, 2.5], *PCA_TITLES[0],
      ytl=["-2.5", "0.0", "2.5"])

ax = add_ax(347, 29, 478, 113)
volcano(ax, A2_GREY, A2_BLUE, A2_RED, "HC_NR", (0.16, 0.86), (0.80, 0.86))
style(ax, (-2.15, 2.08), (-2.5, 41.7), [-2, -1, 0, 1, 2], [0, 10, 20, 30, 40], FCLAB, VLAB)

ax = add_ax(503, 29, 634, 113)
pca(ax, [(A_PCA2_R, C_RED), (A_PCA2_HC, C_HC)])
style(ax, (-4.49, 4.6), (-3.45, 3.7), [-2.5, 0, 2.5], [-2, 0, 2], *PCA_TITLES[1],
      xtl=["-2.5", "0.0", "2.5"])

# ---------- row b ----------
ax = add_ax(38.3, 170.7, 162.3, 254)
volcano(ax, B1_GREY, B1_BLUE, B1_RED, "PD_NR", (0.13, 0.79), (0.81, 0.79))
style(ax, (-3.6, 3.55), (-3, 60.2), [-2, 0, 2], [0, 20, 40, 60], FCLAB, VLAB)

ax = add_ax(195, 170.7, 323.3, 254)
pca(ax, [(B_PCA1_R, C_RED), (B_PCA1_NR, C_GREEN)])
style(ax, (-11.8, 10.9), (-14.4, 8.3), [-10, -5, 0, 5, 10], [-10, -5, 0, 5], *PCA_TITLES[2])

ax = add_ax(349, 170.7, 478.3, 254)
volcano(ax, B2_GREY, B2_BLUE, B2_RED, "HC_NR", (0.137, 0.79), (0.82, 0.79))
style(ax, (-3.3, 3.5), (-3, 51.7), [-2, 0, 2], [0, 10, 20, 30, 40, 50], FCLAB, VLAB)

ax = add_ax(503, 170.7, 634, 254)
pca(ax, [(B_PCA2_R, C_RED), (B_PCA2_HC, C_HC)])
style(ax, (-10.3, 7.4), (-5.9, 10), [-10, -5, 0, 5], [-5, 0, 5], *PCA_TITLES[3])

# ---------- row c ----------
ax = add_ax(36.7, 313.3, 163.3, 395.7)
volcano(ax, C1_GREY, C1_BLUE, C1_RED, "PD_NR", (0.158, 0.80), (0.81, 0.80))
style(ax, (-2.95, 3.0), (-1.6, 38), [-2, -1, 0, 1, 2, 3], [0, 10, 20, 30], FCLAB, VLAB)

ax = add_ax(195, 313.3, 323.3, 395.7)
pca(ax, [(C_PCA1_R, C_RED), (C_PCA1_NR, C_GREEN)])
style(ax, (-16, 13.8), (-10.3, 16.4), [-15, -10, -5, 0, 5, 10], [-10, -5, 0, 5, 10, 15], *PCA_TITLES[4])

ax = add_ax(348.3, 313.3, 476.7, 396.7)
volcano(ax, C2_GREY, C2_BLUE, C2_RED, "HC_NR", (0.156, 0.80), (0.83, 0.80))
style(ax, (-2.55, 2.75), (-1.6, 25.1), [-2, -1, 0, 1, 2], [0, 5, 10, 15, 20], FCLAB, VLAB)

ax = add_ax(502.7, 312.7, 631.7, 395)
pca(ax, [(C_PCA2_HC, C_HC), (C_PCA2_R, C_RED)])
style(ax, (-9.1, 16.8), (-8.9, 12.6), [-5, 0, 5, 10, 15], [-5, 0, 5, 10], *PCA_TITLES[5])

# ---------- headers ----------
for letter, title, y_line, y_grp in (("a", "PBMC", 8.3, 24), ("b", "CD4 mem T cells", 149.3, 165),
                                     ("c", "CD8 mem T cells", 290.7, 307.3)):
    ov.text(3, y_line + 3.5, letter, fontsize=8.5, fontweight='bold', ha='left', va='center')
    ov.plot([36, 635], [y_line, y_line], color='#3A3A3A', lw=0.8)
    if y_line < 20:
        ov.text(335, 0.2, title, fontsize=6.2, ha='center', va='top')
    else:
        ov.text(335, y_line - 1.2, title, fontsize=6.2, ha='center', va='bottom')
    ov.plot([37, 322], [y_grp, y_grp], color='#666666', lw=1.3)
    ov.plot([347, 633], [y_grp, y_grp], color='#666666', lw=1.3)
    ov.text(180, y_grp - 1.5, "PD_R vs PD_NR", fontsize=6.2, ha='center', va='bottom')
    ov.text(490, y_grp - 1.5, "PD_R vs HC_NR", fontsize=6.2, ha='center', va='bottom')

# ---------- legend ----------
handles = [Line2D([], [], ls='', marker='o', ms=4, mec='none', mfc=c, alpha=0.6)
           for c in (C_HC, C_GREEN, C_RED)]
fig.legend(handles, GROUPS, loc='upper left', bbox_to_anchor=(650 / W, 1 - 35 / H), frameon=False,
           fontsize=4, handletextpad=0.2, labelspacing=1.2, handlelength=1.2, borderpad=0)

fig.savefig("out.png", dpi=100)
